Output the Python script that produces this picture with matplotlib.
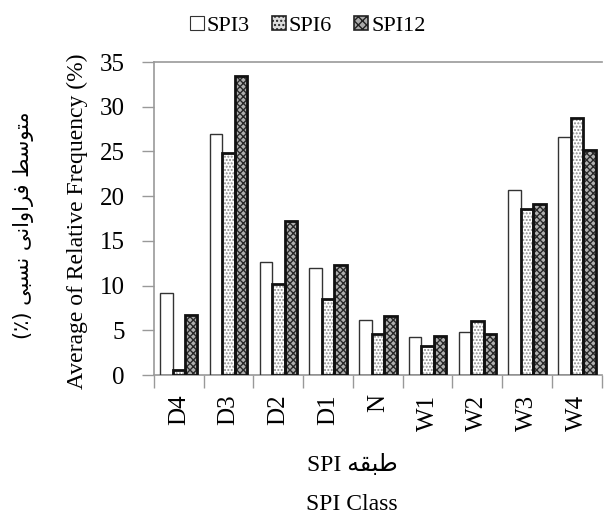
import numpy as np
import matplotlib.pyplot as plt
from matplotlib.patches import Patch

plt.rcParams['font.family'] = ['Liberation Serif', 'DejaVu Sans']
plt.rcParams['hatch.linewidth'] = 1.0

classes = ['D4', 'D3', 'D2', 'D1', 'N', 'W1', 'W2', 'W3', 'W4']
spi3 = [9.2, 26.9, 12.6, 12.0, 6.2, 4.2, 4.8, 20.7, 26.6]
spi6 = [0.6, 24.8, 10.2, 8.5, 4.6, 3.3, 6.0, 18.6, 28.8]
spi12 = [6.7, 33.4, 17.2, 12.3, 6.6, 4.4, 4.6, 19.1, 25.2]
series_names = ['SPI3', 'SPI6', 'SPI12']

# persian labels written as presentation forms in visual order
fa_ylabel = '(\u066a) \ufef0\ufe92\ufeb4\ufee7 \ufef0\ufee7\ufe8d\ufeed\ufe8d\ufeae\ufed3 \ufec2\ufeb3\ufeee\ufe98\ufee3'
fa_xlabel = 'SPI \ufeea\ufed8\ufe92\ufec3'

fig = plt.figure(figsize=(6.06, 5.26), dpi=100)
ax = fig.add_axes([0.254, 0.287, 0.739, 0.595])

x = np.arange(len(classes))
w = 0.25
styles = [
    dict(face='white', hatch=None, hcol='#444444', lw=1.0),
    dict(face='white', hatch='.....', hcol='#8a8a8a', lw=2.0),
    dict(face='#b0b0b0', hatch='xxxxx', hcol='#2a2a2a', lw=2.0),
]
for i, vals in enumerate([spi3, spi6, spi12]):
    st = styles[i]
    pos = x + (i - 1) * w
    ax.bar(pos, vals, w, color=st['face'], hatch=st['hatch'],
           edgecolor=st['hcol'], linewidth=0, zorder=2)
    ax.bar(pos, vals, w, color='none', edgecolor='#111111' if i else '#333333',
           linewidth=st['lw'], zorder=3)

ax.set_xlim(-0.5, len(classes) - 0.5)
ax.set_ylim(0, 35)
ax.set_yticks(np.arange(0, 36, 5))
ax.set_xticks(x)
ax.set_xticklabels(classes, rotation=90, fontsize=18)
ax.set_xticks(np.arange(-0.5, len(classes), 1), minor=True)
ax.tick_params(axis='x', which='major', length=0, pad=14)
ax.tick_params(axis='x', which='minor', length=9, color='#999999', width=1)
ax.tick_params(axis='y', length=9, color='#999999', width=1, labelsize=18, pad=12)

for s in ['left', 'bottom', 'top']:
    ax.spines[s].set_color('#999999')
    ax.spines[s].set_linewidth(1.2)
ax.spines['right'].set_visible(False)

fig.text(0.127, 0.58, 'Average of Relative Frequency (%)', rotation=90,
         ha='center', va='center', fontsize=17)
fig.text(0.038, 0.572, fa_ylabel, rotation=90, ha='center', va='center',
         fontsize=15, family=['DejaVu Sans'])
fig.text(0.581, 0.116, fa_xlabel, ha='center', va='center', fontsize=17)
fig.text(0.581, 0.04, 'SPI Class', ha='center', va='center', fontsize=17)

handles = [
    Patch(facecolor='white', edgecolor='#333333', linewidth=0.8),
    Patch(facecolor='#dddddd', edgecolor='#222222', hatch='....', linewidth=1.2),
    Patch(facecolor='#aaaaaa', edgecolor='#222222', hatch='xxxx', linewidth=1.2),
]
fig.legend(handles, series_names, loc='center', bbox_to_anchor=(0.508, 0.95),
           ncol=3, frameon=False, fontsize=16, handlelength=0.6, handleheight=0.6,
           handletextpad=0.15, columnspacing=1.0)

fig.savefig('out.png', dpi=100)
